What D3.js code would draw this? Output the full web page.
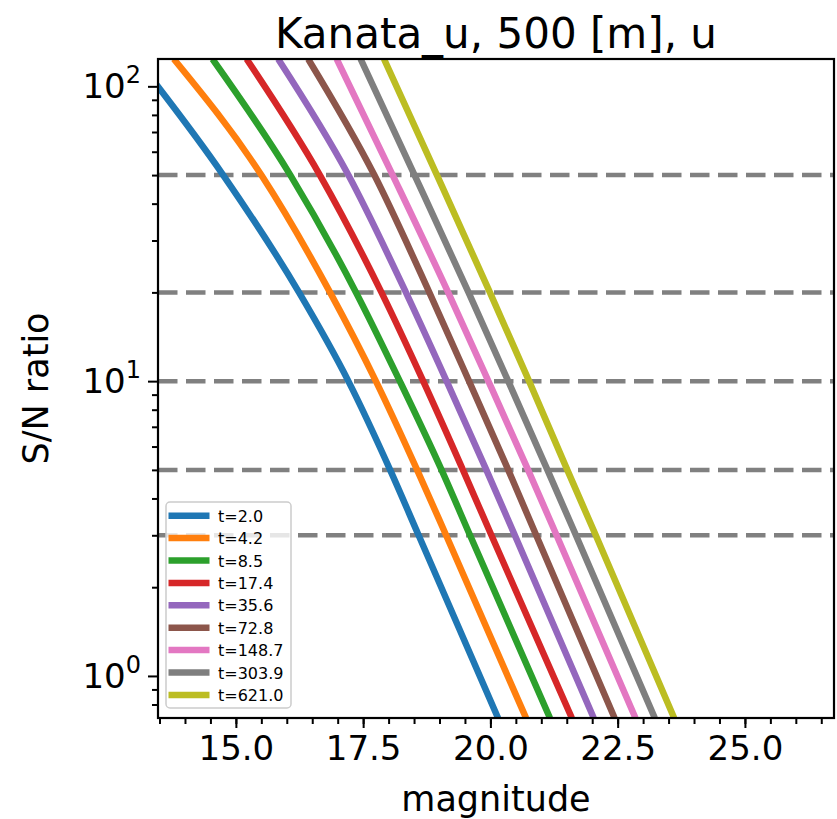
<!DOCTYPE html>
<html>
<head>
<meta charset="utf-8">
<script src="https://cdn.jsdelivr.net/npm/d3@7"></script>
<style>
  body { margin: 0; background: #fff; }
  svg text { font-family: "DejaVu Sans", sans-serif; fill: #000; }
</style>
</head>
<body>
<svg width="837" height="819"></svg>
<script>
// exposure times (legend labels) and matching colours
const labels = ["t=2.0", "t=4.2", "t=8.5", "t=17.4", "t=35.6", "t=72.8", "t=148.7", "t=303.9", "t=621.0"];
const colors = ["#1f77b4", "#ff7f0e", "#2ca02c", "#d62728", "#9467bd", "#8c564b", "#e377c2", "#7f7f7f", "#bcbd22"];

const snLevels = [123.8, 50, 20, 10, 5, 3, 0.72];
// magnitude for each curve at those S/N levels
const magT2   = [13.05, 14.75, 16.24, 17.21, 18.03, 18.59, 20.15];
const magT4   = [13.78, 15.50, 16.85, 17.75, 18.56, 19.13, 20.70];
const magT8   = [14.54, 16.07, 17.36, 18.22, 19.04, 19.60, 21.17];
const magT17  = [15.21, 16.65, 17.86, 18.68, 19.46, 20.02, 21.60];
const magT35  = [15.83, 17.21, 18.34, 19.14, 19.92, 20.48, 22.03];
const magT72  = [16.42, 17.72, 18.80, 19.58, 20.35, 20.90, 22.44];
const magT148 = [16.98, 18.08, 19.17, 19.96, 20.74, 21.30, 22.85];
const magT303 = [17.45, 18.51, 19.57, 20.35, 21.12, 21.68, 23.23];
const magT621 = [17.91, 18.95, 19.99, 20.76, 21.51, 22.07, 23.61];
const curves = [magT2, magT4, magT8, magT17, magT35, magT72, magT148, magT303, magT621];

// horizontal reference lines
const refLines = [50, 20, 10, 5, 3];

// axis ticks
const xMajor = [15, 17.5, 20, 22.5, 25];
const xMinor = d3.range(13.5, 26.76, 0.5);
const yMajor = [1, 10, 100];
const yExp = ["0", "1", "2"];
const yMinor = [0.8, 0.9, 2, 3, 4, 5, 6, 7, 8, 9, 20, 30, 40, 50, 60, 70, 80, 90];

const L = 158, R = 834, T = 59, B = 718;
const svg = d3.select("svg");

const x = d3.scaleLinear().domain([13.47, 26.75]).range([L, R]);
const y = d3.scaleLog().domain([0.72, 123.8]).range([B, T]);

svg.append("defs").append("clipPath").attr("id", "clip")
  .append("rect").attr("x", L).attr("y", T).attr("width", R - L).attr("height", B - T);

// dashed reference lines
svg.append("g").attr("clip-path", "url(#clip)")
  .selectAll("line").data(refLines).join("line")
  .attr("x1", L).attr("x2", R)
  .attr("y1", d => y(d)).attr("y2", d => y(d))
  .attr("stroke", "#808080")
  .attr("stroke-width", 4.5)
  .attr("stroke-dasharray", "19.5,8.5");

// curves
const line = d3.line()
  .x(d => x(d[0]))
  .y(d => y(d[1]))
  .curve(d3.curveMonotoneX);

svg.append("g").attr("clip-path", "url(#clip)")
  .selectAll("path").data(curves).join("path")
  .attr("d", c => line(c.map((m, i) => [m, snLevels[i]])))
  .attr("fill", "none")
  .attr("stroke", (c, i) => colors[i])
  .attr("stroke-width", 6.5);

// axes
const xAxis = svg.append("g").attr("transform", `translate(0,${B})`)
  .call(d3.axisBottom(x).tickValues(xMajor).tickFormat(d3.format(".1f")).tickSize(10).tickPadding(8));
svg.append("g").attr("transform", `translate(0,${B})`)
  .call(d3.axisBottom(x).tickValues(xMinor).tickFormat("").tickSize(6));
xAxis.selectAll("text").attr("font-size", 34).attr("font-family", "DejaVu Sans");

svg.append("g").attr("transform", `translate(${L},0)`)
  .call(d3.axisLeft(y).tickValues(yMajor).tickFormat("").tickSize(10));
svg.append("g").attr("transform", `translate(${L},0)`)
  .call(d3.axisLeft(y).tickValues(yMinor).tickFormat("").tickSize(6));

svg.selectAll(".domain").remove();
svg.selectAll(".tick line").attr("stroke", "#000").attr("stroke-width", 2);

// y tick labels as powers of ten
yMajor.forEach((v, i) => {
  const t = svg.append("text")
    .attr("x", L - 17).attr("y", y(v) + 12)
    .attr("text-anchor", "end").attr("font-size", 34);
  t.append("tspan").text("10");
  t.append("tspan").text(yExp[i]).attr("font-size", 24).attr("dy", -15);
});

// frame
svg.append("rect").attr("x", L).attr("y", T).attr("width", R - L).attr("height", B - T)
  .attr("fill", "none").attr("stroke", "#000").attr("stroke-width", 2.2);

// legend
const lg = svg.append("g");
lg.append("rect").attr("x", 166).attr("y", 502).attr("width", 125).attr("height", 206)
  .attr("rx", 4).attr("fill", "#fff").attr("fill-opacity", 0.8)
  .attr("stroke", "#cccccc").attr("stroke-width", 1.5);
labels.forEach((lab, i) => {
  const cy = 515.7 + i * 22.4;
  lg.append("line").attr("x1", 168.5).attr("x2", 209.5).attr("y1", cy).attr("y2", cy)
    .attr("stroke", colors[i]).attr("stroke-width", 6.5);
  lg.append("text").attr("x", 218).attr("y", cy + 6).attr("font-size", 16).text(lab);
});

// titles
svg.append("text").attr("x", (L + R) / 2).attr("y", 48).attr("text-anchor", "middle")
  .attr("font-size", 42).text("Kanata_u, 500 [m], u");
svg.append("text").attr("x", (L + R) / 2).attr("y", 811).attr("text-anchor", "middle")
  .attr("font-size", 35).text("magnitude");
svg.append("text").attr("transform", `translate(48,${(T + B) / 2}) rotate(-90)`)
  .attr("text-anchor", "middle").attr("font-size", 35).text("S/N ratio");
</script>
</body>
</html>
